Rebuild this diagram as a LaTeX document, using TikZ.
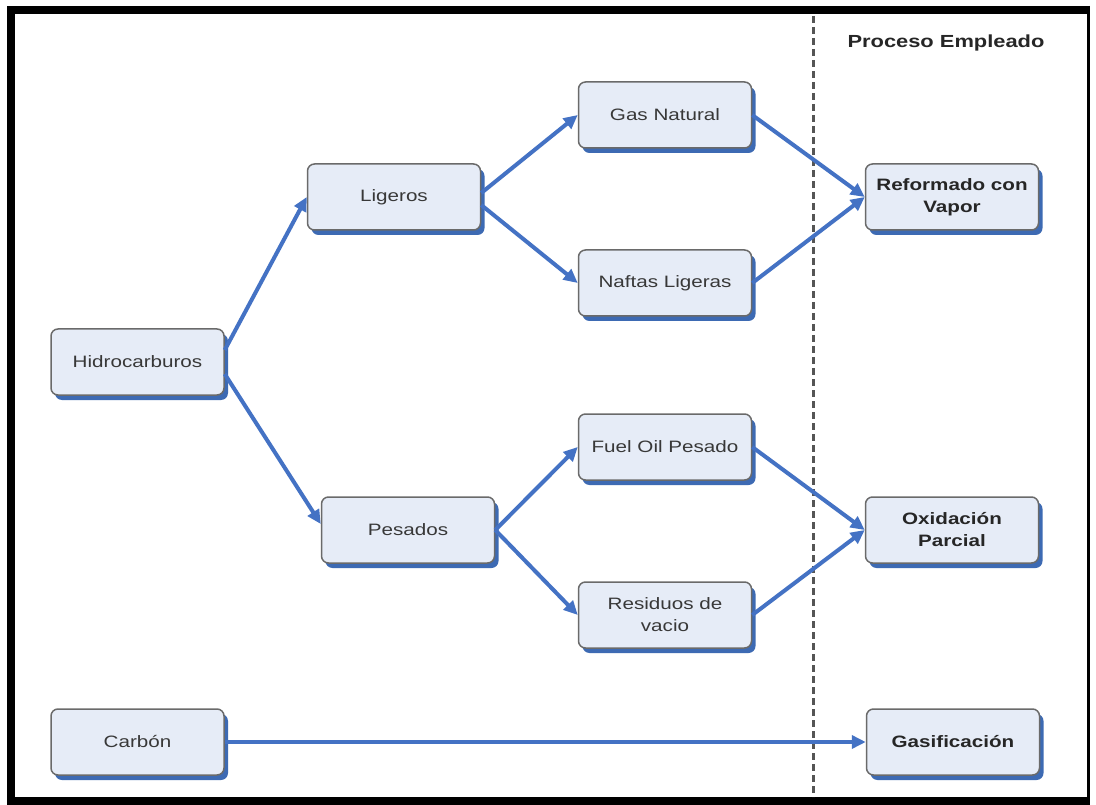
\documentclass[tikz,border=0pt]{standalone}
\usepackage{fontspec}
\setmainfont[FakeStretch=1.25]{Liberation Sans}
\usetikzlibrary{arrows.meta,shadows}

\definecolor{boxfill}{HTML}{E6ECF7}
\definecolor{boxdraw}{HTML}{6A6A6A}
\definecolor{shadowblue}{HTML}{3D6AB3}
\definecolor{arrowblue}{HTML}{4472C4}
\definecolor{txt}{HTML}{383838}
\definecolor{dashgray}{HTML}{555555}

\tikzset{
 box/.style={rectangle, rounded corners=7pt, draw=boxdraw, line width=1.5pt, fill=boxfill,
   minimum width=173pt, minimum height=66pt, inner sep=0pt, align=center,
   font=\fontsize{16.5}{22}\selectfont, text=txt,
   drop shadow={shadow xshift=4pt, shadow yshift=-5pt, fill=shadowblue, opacity=1}},
 bbox/.style={box, font=\fontsize{16.5}{22}\selectfont\bfseries, text=black!85},
 conn/.style={draw=arrowblue, line width=4pt, -{Triangle[length=14pt,width=13pt]}},
 divider/.style={draw=dashgray, line width=3pt, dash pattern=on 7pt off 4pt},
 frameline/.style={draw=black, line width=8pt},
}

\begin{document}
\begin{tikzpicture}[x=1pt,y=-1pt]
\useasboundingbox (0,0) rectangle (1096,805);
\fill[white] (0,0) rectangle (1096,805);

% frame
\draw[frameline] (1088,10) -- (11,10) -- (11,801) -- (1088,801);
\draw[draw=black, line width=3pt] (1088,6) -- (1088,805);

% divider
\coordinate (dtop) at (813,16);
\coordinate (dbot) at (813,797);
\draw[divider] (dtop) -- (dbot);

\node[font=\fontsize{17.5}{20}\selectfont\bfseries, text=black!85] (title) at (946,43) {Proceso Empleado};

\node[box] (hid) at (137.5,362) {Hidrocarburos};
\node[box] (lig) at (394,197) {Ligeros};
\node[box] (pes) at (408,530) {Pesados};
\node[box] (gas) at (665,115) {Gas Natural};
\node[box] (naf) at (665,283) {Naftas Ligeras};
\node[box] (fue) at (665,447) {Fuel Oil Pesado};
\node[box] (res) at (665,615) {Residuos de\\vacio};
\node[bbox] (ref) at (952,197) {Reformado con\\Vapor};
\node[bbox] (oxi) at (952,530) {Oxidación\\Parcial};
\node[box] (car) at (137.5,742) {Carbón};
\node[bbox] (gsf) at (953,742) {Gasificación};

\draw[conn] ([yshift=12pt]hid.east) -- (lig.west);
\draw[conn] ([yshift=-12pt]hid.east) -- ([yshift=6pt]pes.west);
\draw[conn] ([yshift=4pt]lig.east) -- (gas.west);
\draw[conn] ([yshift=-8pt]lig.east) -- (naf.west);
\draw[conn] (pes.east) -- (fue.west);
\draw[conn] (pes.east) -- (res.west);
\draw[conn] (gas.east) -- (ref.west);
\draw[conn] (naf.east) -- (ref.west);
\draw[conn] (fue.east) -- (oxi.west);
\draw[conn] (res.east) -- (oxi.west);
\draw[conn] (car.east) -- (gsf.west);
\end{tikzpicture}
\end{document}
